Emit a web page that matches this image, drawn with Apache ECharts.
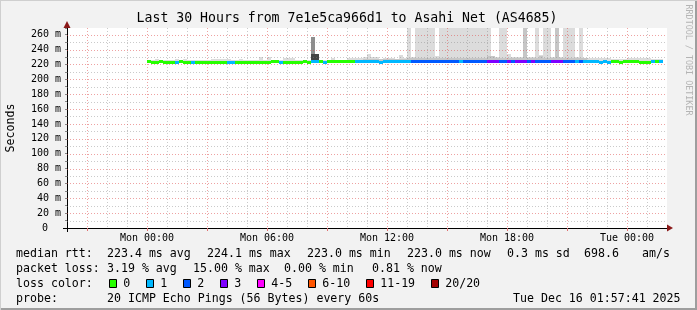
<!DOCTYPE html>
<html><head><meta charset="utf-8">
<script src="https://cdn.jsdelivr.net/npm/echarts@6/dist/echarts.min.js"></script>
<style>html,body{margin:0;padding:0;background:#f2f2f2}#c{width:697px;height:310px}</style>
</head><body><div id="c"></div>
<script>
// ---------- data (hours relative to Mon 00:00) ----------
const xTickHours = [0, 6, 12, 18, 24];
const xTickLabels = ['Mon 00:00', 'Mon 06:00', 'Mon 12:00', 'Mon 18:00', 'Tue 00:00'];
const lossLabels = ['0', '1', '2', '3', '4-5', '6-10', '11-19', '20/20'];
const lossColors = ['#26ff00', '#00b8ff', '#0059ff', '#7e00ff', '#ff00ff', '#ff5500', '#ff0000', '#a10000'];

// median rtt segments (ms) and loss bucket index
const medStart = [0,0.2,0.6,0.8,1.4,1.6,1.8,2.2,2.4,4.0, 4.4,6.2,6.6,6.8,7.8,8.0,8.2,8.6,8.8,9.0, 10.4,11.6,11.8,13.2,15.6,15.8,17.0,17.6,18.0,18.2, 18.4,19.0,19.2,19.4,20.2,20.8,21.4,21.6,21.8,22.6, 22.8,23.0,23.2,23.6,23.8,24.6,25.2,25.4,25.6];
const medEnd   = [0.2,0.6,0.8,1.4,1.6,1.8,2.2,2.4,4.0,4.4, 6.2,6.6,6.8,7.8,8.0,8.2,8.6,8.8,9.0,10.4, 11.6,11.8,13.2,15.6,15.8,17.0,17.6,18.0,18.2,18.4, 19.0,19.2,19.4,20.2,20.8,21.4,21.6,21.8,22.6,22.8, 23.0,23.2,23.6,23.8,24.6,25.2,25.4,25.6,25.8];
const medValue = [224.5,223.2,224.5,223.2,223.2,224.5,223.2,223.2,223.2,223.2, 223.2,224.5,223.2,223.2,224.5,223.2,224.5,224.5,223.2,224.5, 224.5,223.2,224.5,224.5,224.5,224.5,224.5,224.5,224.5,224.5, 224.5,224.5,224.5,224.5,224.5,224.5,224.5,224.5,224.5,223.2, 224.5,223.2,224.5,223.2,224.5,223.2,224.5,224.5,224.5];
const medLoss  = [0,0,0,0,1,0,0,1,0,1, 0,0,1,0,0,0,1,0,1,0, 1,1,1,2,1,2,3,2,3,2, 3,2,3,2,3,2,1,2,1,1, 1,1,0,0,0,0,1,0,1];

// smoke (ping spread) runs: [start hour, end hour, top ms]
const smokeLight = [[0,25.8,226.3],[0.4,0.6,227.8],[1.4,1.6,227.5],[1.8,2.0,227.8],[3.2,4.2,227.8],[4.6,4.8,227.8],[5.6,5.8,229.5],[6.0,6.2,229.5],[6.8,7.4,228.8],[9.2,9.4,229],[10.0,10.8,229],[10.8,11.0,230],[11.0,11.2,234],[11.2,11.6,230],[11.8,12.4,228.5],[12.6,12.8,232.5],[12.8,13.0,229],[13.0,13.2,280],[13.2,13.4,230],[13.4,14.4,280],[14.4,14.6,230.7],[14.6,17.2,280],[17.2,17.6,230],[17.6,18.0,280],[18.0,18.2,233.5],[18.2,18.8,230],[19.0,19.4,230],[19.4,19.6,280],[19.6,19.8,233],[19.8,20.2,280],[20.2,20.4,230],[20.6,20.8,230],[20.8,21.4,280],[21.4,21.6,230],[21.6,21.8,280],[21.8,23.2,228.5],[23.2,24.0,227.5],[24.0,25.2,228.5],[25.2,25.8,227.5]];
const smokeMid = [[10.8,13.0,227.5],[13.0,17.0,228.5],[17.0,17.4,231],[17.4,18.8,228.5],[18.8,19.0,280],[19.0,20.4,228.5],[19.6,19.8,231],[20.4,20.6,280],[20.6,22.0,228]];
const smokeDark = [[8.2,8.4,257]];
const smokeDarkest = [[8.2,8.6,234.3]];

const statsRow1 = [['median rtt:',16],['223.4 ms avg',107],['224.1 ms max',207],['223.0 ms min',307],['223.0 ms now',407],['0.3 ms sd',507],['698.6',584],['am/s',642]];
const statsRow2 = [['packet loss:',16],['3.19 % avg',107],['15.00 % max',193],['0.00 % min',284],['0.81 % now',372]];
const probeRow = [['probe:',16],['20 ICMP Echo Pings (56 Bytes) every 60s',107],['Tue Dec 16 01:57:41 2025',513]];

// ---------- layout ----------
const X_MIN = -4, X_MAX = 26, Y_MIN = 0, Y_MAX = 269, SMOKE_FLOOR = 222;
const FONT = '"DejaVu Sans Mono", monospace';
const ROWS = [254, 269, 284, 299];
const vGrid = []; for (let h = X_MIN + 1; h < X_MAX; h++) vGrid.push([h]);
const hGrid = []; for (let v = 10; v < Y_MAX; v += 10) hGrid.push([v]);
const GRAY = 'rgba(128,128,128,0.42)', RED = 'rgba(222,70,70,0.5)';

const chart = echarts.init(document.getElementById('c'), null, {renderer: 'canvas'});

function smokeSeries(runs, color, z) {
  return {
    type: 'custom', z: z, silent: true, clip: true, data: runs, encode: {x: [0, 1], y: 2},
    renderItem: function (p, api) {
      const top = Math.min(api.value(2), Y_MAX);
      const a = api.coord([api.value(0), top]);
      const b = api.coord([api.value(1), SMOKE_FLOOR]);
      const x0 = Math.round(a[0]), x1 = Math.round(b[0]), y0 = Math.round(a[1]), y1 = Math.round(b[1]);
      return {type: 'rect', shape: {x: x0, y: y0, width: x1 - x0, height: y1 - y0}, style: {fill: color}};
    }
  };
}

const medianData = medStart.map((s, i) => [s, medEnd[i], medValue[i], medLoss[i]]);

const graphics = [];
graphics.push({type: 'text', x: 347, y: 19, style: {text: 'Last 30 Hours from 7e1e5ca966d1 to Asahi Net (AS4685)', font: '13.2px ' + FONT, fill: '#000', align: 'center', verticalAlign: 'middle'}});
graphics.push({type: 'text', x: 688, y: 60, rotation: -Math.PI / 2, style: {text: 'RRDTOOL / TOBI OETIKER', font: '8.4px ' + FONT, fill: '#b4b4b4', align: 'center', verticalAlign: 'middle'}});
function row(items, y) { items.forEach(([t, x]) => graphics.push({type: 'text', x: x, y: y, style: {text: t, font: '11.6px ' + FONT, fill: '#000', align: 'left', verticalAlign: 'middle'}})); }
row(statsRow1, ROWS[0]);
row(statsRow2, ROWS[1]);
row([['loss color:', 16]], ROWS[2]);
row(probeRow, ROWS[3]);
let sx = 108.5;
lossLabels.forEach((lab, i) => {
  graphics.push({type: 'rect', shape: {x: Math.round(sx) + 0.5, y: ROWS[2] - 4.5, width: 7, height: 8}, style: {fill: lossColors[i], stroke: '#000', lineWidth: 1}});
  graphics.push({type: 'text', x: sx + 14.7, y: ROWS[2], style: {text: lab, font: '11.6px ' + FONT, fill: '#000', align: 'left', verticalAlign: 'middle'}});
  sx += 30 + 7 * lab.length;
});
graphics.push({type: 'polygon', shape: {points: [[667, 224.5], [667, 231.5], [673, 228]]}, style: {fill: '#8b1a1a'}, z: 10});
graphics.push({type: 'polygon', shape: {points: [[63.5, 28], [70.5, 28], [67, 21]]}, style: {fill: '#8b1a1a'}, z: 10});
graphics.push({type: 'line', shape: {x1: 63, y1: 228.5, x2: 67, y2: 228.5}, style: {stroke: '#000', lineWidth: 1}, z: 10});
graphics.push({type: 'line', shape: {x1: 67.5, y1: 228, x2: 67.5, y2: 232}, style: {stroke: '#000', lineWidth: 1}, z: 10});
graphics.push({type: 'rect', shape: {x: 695, y: 0, width: 2, height: 310}, style: {fill: '#9e9e9e'}});
graphics.push({type: 'rect', shape: {x: 0, y: 308, width: 697, height: 2}, style: {fill: '#9e9e9e'}});
graphics.push({type: 'rect', shape: {x: 0, y: 0, width: 697, height: 1}, style: {fill: '#cfcfcf'}});
graphics.push({type: 'rect', shape: {x: 0, y: 0, width: 1, height: 310}, style: {fill: '#cfcfcf'}});

chart.setOption({
  animation: false,
  backgroundColor: '#f2f2f2',
  grid: {left: 67, right: 30, top: 28, bottom: 82, show: true, backgroundColor: '#ffffff', borderWidth: 0, containLabel: false, outerBoundsMode: 'none'},
  xAxis: {
    type: 'value', min: X_MIN, max: X_MAX, interval: 1,
    axisLine: {show: true, onZero: false, lineStyle: {color: '#000', width: 1}},
    axisTick: {show: false},
    splitLine: {show: false},
    axisLabel: {
      margin: 5, fontFamily: FONT, fontSize: 10, color: '#000', showMinLabel: true, showMaxLabel: true,
      formatter: v => { const i = xTickHours.indexOf(v); return i >= 0 ? xTickLabels[i] : ''; }
    }
  },
  yAxis: {
    type: 'value', min: Y_MIN, max: Y_MAX, interval: 10,
    name: 'Seconds', nameLocation: 'middle', nameGap: 50, nameRotate: 90,
    nameTextStyle: {fontFamily: FONT, fontSize: 11.6, color: '#000'},
    axisLine: {show: true, onZero: false, lineStyle: {color: '#000', width: 1}},
    axisTick: {show: true, length: 2, lineStyle: {color: '#888'}},
    splitLine: {show: false},
    axisLabel: {
      margin: 6, fontFamily: FONT, fontSize: 10, color: '#000',
      formatter: v => (v % 20 === 0 && v <= 260) ? (v === 0 ? '{z|0}' : v + ' m') : '',
      rich: {z: {fontFamily: FONT, fontSize: 10, color: '#000', padding: [0, 13, 0, 0]}}
    }
  },
  graphic: graphics,
  series: [
    smokeSeries(smokeLight, '#dcdcdc', 1),
    smokeSeries(smokeMid, '#c6c6c6', 1),
    smokeSeries(smokeDark, '#8e8e8e', 1),
    smokeSeries(smokeDarkest, '#444444', 1),
    {
      type: 'custom', z: 2, silent: true, clip: false, data: vGrid, encode: {x: 0},
      renderItem: function (p, api) {
        const h = api.value(0);
        const major = ((h % 3) + 3) % 3 === 0;
        const a = api.coord([h, Y_MAX]), b = api.coord([h, Y_MIN]);
        const x = Math.round(a[0]) + 0.5;
        const children = [{type: 'line', shape: {x1: x, y1: a[1], x2: x, y2: b[1]}, style: {stroke: major ? RED : GRAY, lineWidth: 1, lineDash: [1, 2]}}];
        if (major) children.push({type: 'line', shape: {x1: x, y1: b[1], x2: x, y2: b[1] + 3}, style: {stroke: '#e07070', lineWidth: 1}});
        return {type: 'group', children: children};
      }
    },
    {
      type: 'custom', z: 2, silent: true, clip: false, data: hGrid, encode: {y: 0},
      renderItem: function (p, api) {
        const v = api.value(0);
        const a = api.coord([X_MIN, v]), b = api.coord([X_MAX, v]);
        const y = Math.round(a[1]) + 0.5;
        return {type: 'line', shape: {x1: a[0], y1: y, x2: b[0], y2: y}, style: {stroke: v % 20 === 0 ? RED : GRAY, lineWidth: 1, lineDash: [1, 2]}};
      }
    },
    {
      type: 'custom', z: 3, silent: true, clip: true, data: medianData, encode: {x: [0, 1], y: 2},
      renderItem: function (p, api) {
        const a = api.coord([api.value(0), api.value(2)]);
        const b = api.coord([api.value(1), api.value(2)]);
        const x0 = Math.round(a[0]), x1 = Math.round(b[0]);
        return {type: 'rect', shape: {x: x0, y: Math.round(a[1] - 1.5), width: x1 - x0, height: 3}, style: {fill: lossColors[api.value(3)]}};
      }
    }
  ]
});
</script></body></html>
